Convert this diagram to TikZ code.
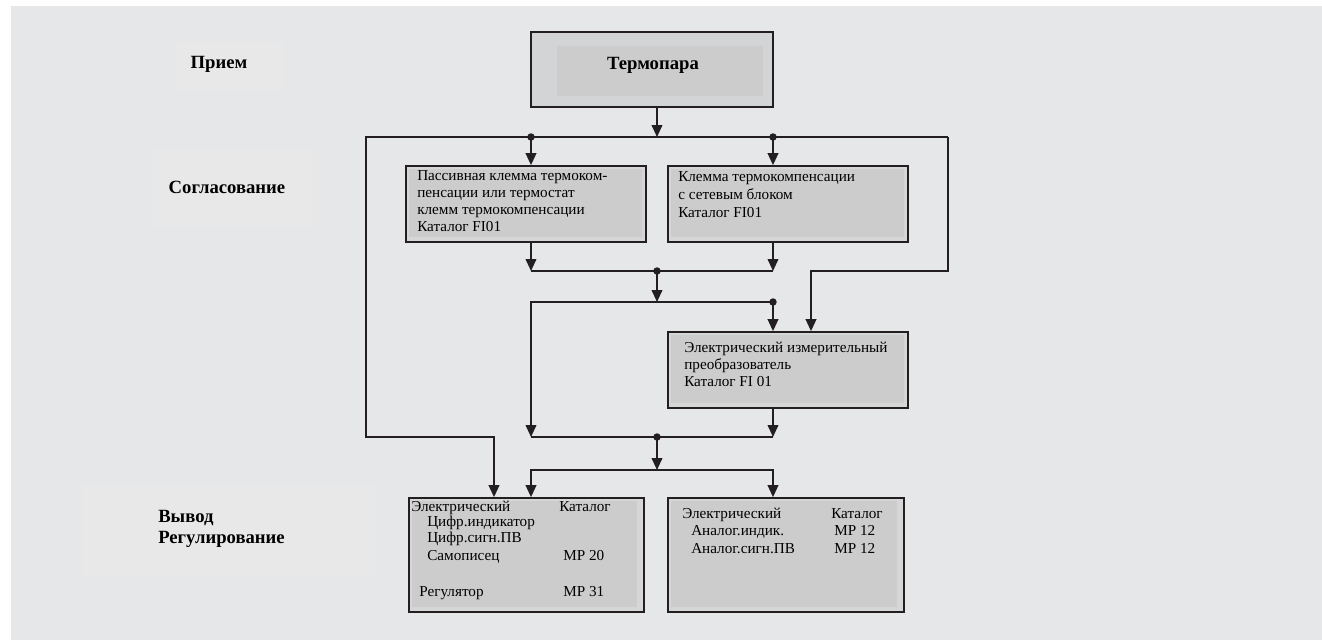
\documentclass[tikz,border=0pt]{standalone}
\usepackage{fontspec}
\setmainfont{Liberation Serif}
\usetikzlibrary{arrows.meta}
\definecolor{ink}{HTML}{231F20}
\definecolor{pagebg}{HTML}{E6E7E9}
\definecolor{labelbg}{HTML}{E8E8E9}
\definecolor{boxlt}{HTML}{D6D6D6}
\definecolor{boxdk}{HTML}{CCCCCC}
\definecolor{tpfill}{HTML}{D3D4D5}
\tikzset{
  box/.style={draw=ink, line width=1.3pt, fill=boxlt, inner sep=0pt},
  inset/.style n args={4}{path picture={\fill[boxdk]
      ([shift={(#1,-#2)}]path picture bounding box.north west) rectangle
      ([shift={(-#3,#4)}]path picture bounding box.south east);}},
  txt/.style={anchor=base west, inner sep=0pt, font=\fontsize{11.4}{13}\selectfont},
  lbl/.style={inner sep=0pt, font=\bfseries\fontsize{14}{16}\selectfont},
  wire/.style={draw=ink, line width=1.3pt},
  arr/.style={wire, -{Triangle[length=9pt,width=8pt]}},
}
\begin{document}
\begin{tikzpicture}[x=0.75pt, y=-0.75pt]
  \useasboundingbox (0,0) rectangle (1322,640);
  \fill[white] (0,0) rectangle (1322,640);
  \fill[pagebg] (11,6) rectangle (1322,640);
  % stage labels
  \fill[labelbg] (176,42) rectangle (283,91);
  \fill[labelbg] (152,150) rectangle (313,228);
  \fill[labelbg] (82,485) rectangle (375,577);
  \node[lbl, anchor=base] (priem) at (219,68) {Прием};
  \node[lbl, anchor=base] (soglas) at (227,193) {Согласование};
  \node[lbl, anchor=base west] (vyvod) at (158,522) {Вывод};
  \node[lbl, anchor=base west] (regul) at (158,543) {Регулирование};
  % boxes
  \node[box, fill=tpfill, inset={19.5pt}{10.5pt}{7.5pt}{8.25pt},
        minimum width=181.5pt, minimum height=56.25pt] (tp) at (652,69.5) {};
  \node[lbl, anchor=base] (tptext) at (653,69) {Термопара};
  \node[box, inset={2pt}{2pt}{3pt}{4pt}, minimum width=180pt, minimum height=57pt] (pk) at (526,204) {};
  \node[box, inset={2pt}{2pt}{3pt}{4pt}, minimum width=180pt, minimum height=57pt] (kt) at (788,204) {};
  \node[box, inset={2pt}{2pt}{3pt}{4pt}, minimum width=180pt, minimum height=57pt] (ip) at (788,370) {};
  \node[box, inset={2pt}{2pt}{5pt}{4pt}, minimum width=176.25pt, minimum height=85.5pt] (vy) at (526.5,555) {};
  \node[box, inset={2pt}{2pt}{5pt}{4pt}, minimum width=177pt, minimum height=85.5pt] (an) at (786,555) {};
  % box texts
  \foreach \x/\y/\t [count=\i] in {417/180/Пассивная клемма термоком-, 417/197/пенсации или термостат,
      417/214/клемм термокомпенсации, 417/231/Каталог FI01}
    \node[txt] (pk\i) at (\x,\y) {\t};
  \foreach \x/\y/\t [count=\i] in {678/181/Клемма термокомпенсации, 678/199/с сетевым блоком, 678/217/Каталог FI01}
    \node[txt] (kt\i) at (\x,\y) {\t};
  \foreach \x/\y/\t [count=\i] in {684/352/Электрический измерительный, 684/369/преобразователь, 684/386/Каталог FI 01}
    \node[txt] (ip\i) at (\x,\y) {\t};
  \foreach \x/\y/\t [count=\i] in {411/511/Электрический, 559/511/Каталог, 427/526/Цифр.индикатор,
      427/542/Цифр.сигн.ПВ, 427/560/Самописец, 563/560/MP 20, 419/596/Регулятор, 563/596/MP 31}
    \node[txt] (vy\i) at (\x,\y) {\t};
  \foreach \x/\y/\t [count=\i] in {682/518/Электрический, 831/518/Каталог, 691/535/Аналог.индик.,
      834/535/MP 12, 691/553/Аналог.сигн.ПВ, 834/553/MP 12}
    \node[txt] (an\i) at (\x,\y) {\t};
  % junctions
  \coordinate (j0) at (657,137);
  \coordinate (dA) at (531,137);
  \coordinate (dB) at (773,137);
  \coordinate (tl) at (366,137);
  \coordinate (tr) at (948,137);
  \coordinate (lbx) at (494,437);
  \coordinate (rbx) at (811,271);
  \coordinate (j1) at (657,271);
  \coordinate (j2) at (657,302);
  \coordinate (j3) at (657,437);
  \coordinate (j4) at (657,470);
  % wiring
  \draw[arr] (tp.south -| j0) -- (j0);
  \draw[arr] (tr) -- (tl) |- (lbx) -- (lbx |- vy.north);
  \draw[arr] (tr) |- (rbx) -- (rbx |- ip.north);
  \draw[arr] (dA) -- (dA |- pk.north);
  \draw[arr] (dB) -- (dB |- kt.north);
  \draw[arr] (pk.south -| dA) -- (dA |- j1);
  \draw[arr] (kt.south -| dB) -- (dB |- j1);
  \draw[wire] (dA |- j1) -- (dB |- j1);
  \draw[arr] (j1) -- (j2);
  \draw[arr] (dB |- j2) -- (dB |- ip.north);
  \draw[arr] (dB |- j2) -- (dA |- j2) -- (dA |- j3);
  \draw[arr] (ip.south -| dB) -- (dB |- j3);
  \draw[wire] (dA |- j3) -- (dB |- j3);
  \draw[arr] (j3) -- (j4);
  \draw[arr] (j4) -| (dA |- vy.north);
  \draw[arr] (j4) -| (dB |- an.north);
  \foreach \p in {dA, dB, j1, j3}
    \fill[ink] (\p) circle (2.8pt);
  \fill[ink] (dB |- j2) circle (2.8pt);
\end{tikzpicture}
\end{document}
